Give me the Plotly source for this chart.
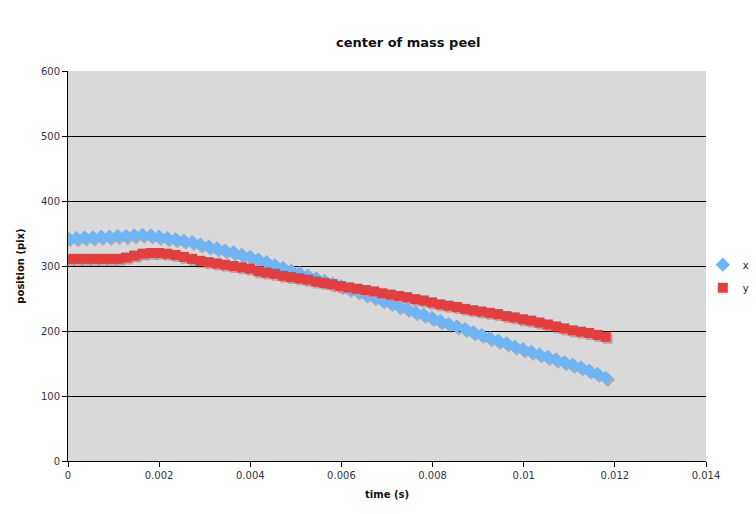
import plotly.graph_objects as go

time_s = [0.0, 0.000182, 0.000363, 0.000545, 0.000726, 0.000908, 0.001089, 0.001271,
          0.001452, 0.001634, 0.001815, 0.001997, 0.002178, 0.00236, 0.002542, 0.002723,
          0.002905, 0.003086, 0.003268, 0.003449, 0.003631, 0.003812, 0.003994, 0.004175,
          0.004357, 0.004538, 0.00472, 0.004902, 0.005083, 0.005265, 0.005446, 0.005628,
          0.005809, 0.005991, 0.006172, 0.006354, 0.006535, 0.006717, 0.006898, 0.00708,
          0.007262, 0.007443, 0.007625, 0.007806, 0.007988, 0.008169, 0.008351, 0.008532,
          0.008714, 0.008895, 0.009077, 0.009258, 0.00944, 0.009622, 0.009803, 0.009985,
          0.010166, 0.010348, 0.010529, 0.010711, 0.010892, 0.011074, 0.011255, 0.011437,
          0.011618, 0.0118]

x_pos = [343, 343, 344, 344, 345, 345, 346, 346, 347, 348, 347, 345, 343, 341, 339, 337,
         333, 330, 327, 324, 321, 317, 314, 310, 306, 301, 297, 293, 289, 285, 281, 277,
         273, 269, 265, 261, 256, 252, 247, 243, 238, 234, 229, 225, 220, 215, 211, 207,
         203, 198, 194, 189, 185, 181, 176, 172, 168, 164, 160, 156, 152, 148, 144, 139,
         134, 128]

y_pos = [311, 311, 311, 311, 311, 311, 311, 313, 316, 319, 320, 320, 319, 317, 314, 311,
         308, 306, 304, 302, 300, 298, 296, 292, 290, 288, 285, 283, 281, 279, 276, 274,
         272, 269, 267, 265, 263, 261, 258, 256, 254, 252, 249, 247, 244, 241, 239, 237,
         234, 232, 230, 228, 226, 223, 221, 218, 216, 213, 210, 207, 204, 201, 199, 197,
         194, 191]

x_ticks = [0, 0.002, 0.004, 0.006, 0.008, 0.01, 0.012, 0.014]
x_tick_text = ["0", "0.002", "0.004", "0.006", "0.008", "0.01", "0.012", "0.014"]
y_ticks = [0, 100, 200, 300, 400, 500, 600]

BLUE = "#6DB5F7"
RED = "#E53E3E"
SHADOW = "rgba(90,90,90,0.35)"
FONT = "DejaVu Sans"

x_range = [0, 0.014]
y_range = [0, 600]
# shadow offset: ~2px right, ~2px down
dx = 2 * (x_range[1] - x_range[0]) / 638
dy = 2 * (y_range[1] - y_range[0]) / 390

fig = go.Figure()

# invisible carrier so the main axes are drawn
fig.add_trace(go.Scatter(x=time_s, y=x_pos, mode="markers", xaxis="x", yaxis="y",
                         marker=dict(size=1, opacity=0), showlegend=False, hoverinfo="skip"))
# shadows
fig.add_trace(go.Scatter(x=time_s, y=x_pos, mode="markers", xaxis="x2", yaxis="y2",
                         marker=dict(symbol="diamond", size=11, color=SHADOW, line=dict(width=0)),
                         showlegend=False, hoverinfo="skip"))
fig.add_trace(go.Scatter(x=time_s, y=y_pos, mode="markers", xaxis="x2", yaxis="y2",
                         marker=dict(symbol="square", size=10, color=SHADOW, line=dict(width=0)),
                         showlegend=False, hoverinfo="skip"))
# data
fig.add_trace(go.Scatter(x=time_s, y=x_pos, mode="markers", name="x", xaxis="x3", yaxis="y3",
                         legendgroup="gx",
                         marker=dict(symbol="diamond", size=11, color=BLUE, line=dict(width=0))))
fig.add_trace(go.Scatter(x=time_s, y=y_pos, mode="markers", name="y", xaxis="x3", yaxis="y3",
                         legendgroup="gy",
                         marker=dict(symbol="square", size=10, color=RED, line=dict(width=0))))

hidden = dict(visible=False, showgrid=False, zeroline=False)

fig.update_layout(
    width=756, height=514,
    margin=dict(l=68, r=50, t=71, b=53, autoexpand=False),
    paper_bgcolor="white",
    plot_bgcolor="#D9D9D9",
    font=dict(family=FONT, size=10, color="#333333"),
    title=dict(text="<b>center of mass peel</b>", x=0.54, xanchor="center",
               y=1 - 42 / 514, yanchor="middle",
               font=dict(family=FONT, size=13, color="#111111")),
    xaxis=dict(range=x_range, tickvals=x_ticks, ticktext=x_tick_text,
               showgrid=False, zeroline=False, showline=True, linecolor="black", linewidth=1,
               ticks="outside", ticklen=5, tickcolor="black",
               tickfont=dict(family=FONT, size=10, color="#333344"),
               title=dict(text="<b>time (s)</b>", font=dict(family=FONT, size=10, color="#111111"),
                          standoff=10),
               mirror=False),
    yaxis=dict(range=y_range, tickvals=y_ticks,
               showgrid=True, gridcolor="black", gridwidth=1, zeroline=False,
               showline=True, linecolor="black", linewidth=1,
               ticks="outside", ticklen=5, tickcolor="black",
               tickfont=dict(family=FONT, size=10, color="#333344"),
               title=dict(text="<b>position (pix)</b>", font=dict(family=FONT, size=10, color="#111111"),
                          standoff=14)),
    xaxis2=dict(range=[x_range[0] - dx, x_range[1] - dx], overlaying="x", **hidden),
    yaxis2=dict(range=[y_range[0] + dy, y_range[1] + dy], overlaying="y", **hidden),
    xaxis3=dict(range=x_range, overlaying="x", **hidden),
    yaxis3=dict(range=y_range, overlaying="y", **hidden),
    legend=dict(x=0.995, y=0.474, xanchor="left", yanchor="middle",
                bgcolor="rgba(0,0,0,0)", font=dict(family=FONT, size=10, color="#222233"),
                itemwidth=30, tracegroupgap=4),
    showlegend=True,
)

fig.write_html("out.html")
